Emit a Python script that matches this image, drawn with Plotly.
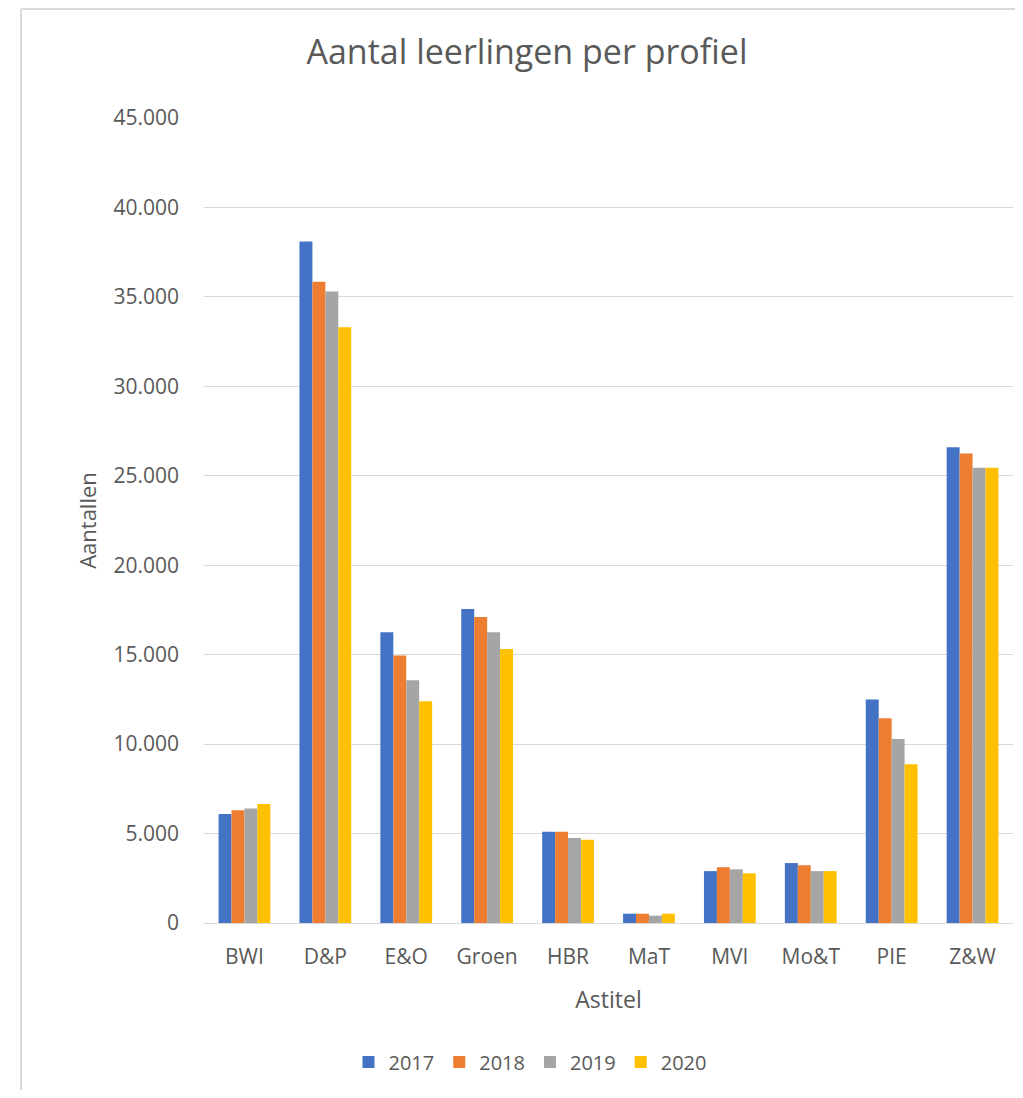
import plotly.graph_objects as go

categories = ["BWI", "D&P", "E&O", "Groen", "HBR", "MaT", "MVI", "Mo&T", "PIE", "Z&W"]
years = ["2017", "2018", "2019", "2020"]
v2017 = [6100, 38100, 16250, 17550, 5100, 520, 2900, 3350, 12500, 26600]
v2018 = [6300, 35850, 14950, 17100, 5100, 520, 3120, 3230, 11450, 26250]
v2019 = [6400, 35300, 13570, 16250, 4750, 410, 3000, 2900, 10280, 25450]
v2020 = [6650, 33300, 12400, 15320, 4650, 520, 2780, 2900, 8870, 25450]
series = [v2017, v2018, v2019, v2020]
colors = ["#4472C4", "#ED7D31", "#A5A5A5", "#FFC000"]

OFF = 8  # page body margin
W, H = 1023 - 2 * OFF, 1098 - 2 * OFF
PL, PR, PT, PB = 204, 1013, 118, 923  # plot area in page pixels
ml = PL - OFF
mr = OFF + W - PR
mt = PT - OFF
mb = OFF + H - PB
pw = W - ml - mr
ph = H - mt - mb

fig = go.Figure()
for y, vals, c in zip(years, series, colors):
    fig.add_trace(go.Bar(x=categories, y=vals, name=y, marker=dict(color=c, line=dict(width=0))))

font = "Open Sans, Noto Sans, sans-serif"
grey = "#595959"
border = "#D9D9D9"

def px_x(px):
    return (px - PL) / pw

def px_y(py):
    return (PB - py) / ph

fig.update_layout(
    width=W, height=H,
    margin=dict(l=ml, r=mr, t=mt, b=mb),
    paper_bgcolor="white", plot_bgcolor="white",
    separators=",.",
    barmode="group", bargap=0.36, bargroupgap=0,
    font=dict(family=font, color=grey, size=20),
    title=dict(text="Aantal leerlingen per profiel", xref="container", x=(527 - OFF) / W,
               xanchor="center", yref="container", y=1 - (52 - OFF) / H, yanchor="middle",
               font=dict(size=34, color=grey, family=font)),
    xaxis=dict(showgrid=False, showline=True, linecolor=border, linewidth=1,
               ticks="", ticklabelstandoff=15, tickfont=dict(size=21, color=grey),
               title=dict(text="Astitel", font=dict(size=23, color=grey), standoff=22)),
    yaxis=dict(range=[0, 45000], dtick=5000, tickformat=",d", showgrid=True,
               gridcolor=border, gridwidth=1, zeroline=False, showline=False,
               ticks="", ticklabelstandoff=24, tickfont=dict(size=21, color=grey),
               title=dict(text="Aantallen", font=dict(size=22, color=grey), standoff=10)),
    legend=dict(orientation="h", x=px_x(530), xanchor="center", y=px_y(1062), yanchor="middle",
                font=dict(size=20, color=grey), itemwidth=30, traceorder="normal"),
    shapes=[
        dict(type="line", xref="paper", yref="paper",
             x0=px_x(21), x1=px_x(1030), y0=px_y(9), y1=px_y(9),
             line=dict(color=border, width=2), layer="below"),
        dict(type="line", xref="paper", yref="paper",
             x0=px_x(21), x1=px_x(21), y0=px_y(9), y1=px_y(1110),
             line=dict(color=border, width=2), layer="below"),
    ],
)

fig.write_html("out.html")
